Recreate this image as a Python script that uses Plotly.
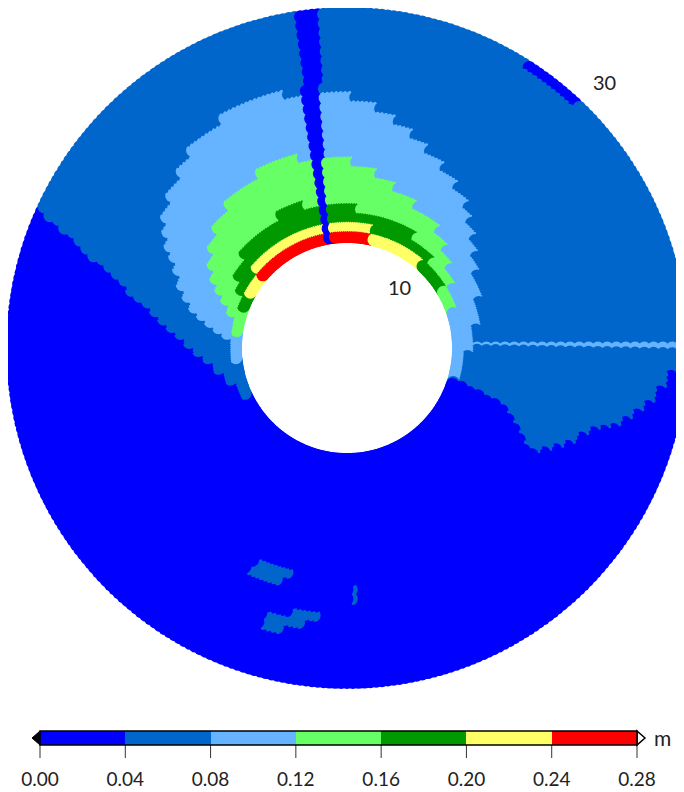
import plotly.graph_objects as go

# ---------------- colour bands (m) ----------------
BAND_EDGES = [0.00, 0.04, 0.08, 0.12, 0.16, 0.20, 0.24, 0.28]
BAND_COLORS = ["#0000ff", "#0066cc", "#66b3ff", "#66ff66", "#009900", "#ffff66", "#ff0000"]
TICK_TEXT = ["0.00", "0.04", "0.08", "0.12", "0.16", "0.20", "0.24", "0.28"]
UNIT = "m"
RADIUS_LABELS = ["10", "30"]

# ---------------- polar mesh ----------------
RING_R = [10.0, 10.833, 11.667, 12.5, 13.333, 14.167, 15.0, 15.833, 16.667, 17.5,
          18.333, 19.167, 20.0, 20.833, 21.667, 22.5, 23.333, 24.167, 25.0, 25.833,
          26.667, 27.5, 28.333, 29.167, 30.0]
THETA = list(range(279, -81, -1))  # degrees, drawn clockwise

# ---------------- regions: (ring index, from deg, to deg) ----------------
# band 0.04-0.08 (mid blue)
B1_RING = list(range(25)) + [13, 14, 17, 18, 19, 14, 15]
B1_FROM = [-18, -18.7, -19.2, -19.8, -20.3, -20.8, -21.5, -23, -25, -27, -29, -29, -27.5,
           -25.5, -23, -20, -18.5, -17.3, -16, -14.5, -12.5, -10.3, -7.5, -4, -1,
           247, 246, 258, 253, 253, 271, 271]
B1_TO = [204, 195.4, 189.4, 184.8, 181.1, 178, 175.4, 173.1, 171.1, 169.4, 167.8, 166.3, 165.1,
         163.9, 162.8, 161.8, 160.9, 160.1, 159.3, 158.6, 157.9, 157.3, 156.7, 156.1, 155.6,
         255, 253, 263, 260, 256, 271, 271]

# band 0.08-0.12 (light blue)
B2_RING = list(range(17)) + list(range(2, 25))
B2_FROM = [-17, -3, 8.6, 19.5, 29.5, 35.5, 40.3, 46, 49.6, 56, 62, 67.7, 72.8, 77.4, 82.9, 88.4, 104] + [0] * 23
B2_TO = [185, 173.6, 171, 169, 167, 165, 162.6, 159.3, 155.7, 152.5, 150.2, 147.4, 144.2, 139.5,
         133.4, 128, 118] + [0] * 23

# band 0.12-0.16 (light green)
B3_RING = list(range(10))
B3_FROM = [19, 30, 38, 44.4, 52, 63.5, 72.5, 80, 88, 104]
B3_TO = [171, 162.3, 158.8, 155.5, 152.1, 148.1, 143.3, 137, 129, 116]

# band 0.16-0.20 (dark green)
B4_RING = [0, 1, 2, 3, 4]
B4_FROM = [31, 45, 58, 85, 106]
B4_TO = [158, 151, 146.2, 137.8, 116]

# band 0.20-0.24 (yellow)
B5_RING = [0, 0, 1]
B5_FROM = [48, 140, 77]
B5_TO = [76, 150, 138]

# band 0.24-0.28 (red)
B6_RING = [0]
B6_FROM = [77]
B6_TO = [139]

# band 0.00-0.04 drawn over everything (radial stripe and outer arc)
B0_RING = list(range(25)) + [24]
B0_FROM = [97] * 9 + [96] * 8 + [95] * 8 + [47]
B0_TO = [99] * 9 + [99] * 8 + [98] * 8 + [57]

# ---------------- build the field ----------------
band_value = [(BAND_EDGES[i] + BAND_EDGES[i + 1]) / 2 for i in range(len(BAND_COLORS))]
field = [[band_value[0]] * len(THETA) for _ in RING_R]
layers = [(1, B1_RING, B1_FROM, B1_TO), (2, B2_RING, B2_FROM, B2_TO),
          (3, B3_RING, B3_FROM, B3_TO), (4, B4_RING, B4_FROM, B4_TO),
          (5, B5_RING, B5_FROM, B5_TO), (6, B6_RING, B6_FROM, B6_TO),
          (0, B0_RING, B0_FROM, B0_TO)]
for lvl, rings, lo, hi in layers:
    for k, a, b in zip(rings, lo, hi):
        for j, t in enumerate(THETA):
            if a - 0.01 <= t <= b + 0.01:
                field[k][j] = band_value[lvl]

rr, tt, vv = [], [], []
for j, t in enumerate(THETA):
    for k in range(len(RING_R) - 1, -1, -1):   # outer ring first, inner ring on top
        rr.append(RING_R[k])
        tt.append(t)
        vv.append(field[k][j])

n = len(BAND_COLORS)
colorscale = []
for i, c in enumerate(BAND_COLORS):
    colorscale.append([i / n, c])
    colorscale.append([(i + 1) / n, c])

W, H = 684, 792
OFF = 8          # page body margin of the browser: figure pixel = screen pixel - OFF
FONT = "Lato"
TXT = "#222222"


def px(x):
    return (x - OFF) / W


def py(y):
    return 1 - (y - OFF) / H


# colour-bar geometry (screen pixels)
BAR_X0, BAR_X1, BAR_Y0, BAR_Y1 = 40, 637, 731, 745

fig = go.Figure()
fig.add_trace(go.Scatterpolar(
    r=rr, theta=tt, mode="markers", cliponaxis=False, hoverinfo="skip",
    marker=dict(
        size=13, color=vv, colorscale=colorscale, cmin=BAND_EDGES[0], cmax=BAND_EDGES[-1],
        line=dict(width=0),
        colorbar=dict(
            orientation="h", x=(px(BAR_X0) + px(BAR_X1)) / 2, xanchor="center",
            y=py(BAR_Y0), yanchor="top",
            lenmode="pixels", len=BAR_X1 - BAR_X0, thicknessmode="pixels", thickness=BAR_Y1 - BAR_Y0,
            outlinewidth=1.5, outlinecolor="black", xpad=0, ypad=0,
            tickmode="array", tickvals=BAND_EDGES, ticktext=TICK_TEXT,
            ticks="outside", ticklen=18, tickwidth=1, tickcolor="rgba(0,0,0,0)",
            tickfont=dict(family=FONT, size=19, color=TXT),
        ),
    ),
))

ymid = (BAR_Y0 + BAR_Y1) / 2
shapes = [
    dict(type="path", xref="paper", yref="paper",
         path=f"M {px(BAR_X0)} {py(BAR_Y0)} L {px(BAR_X0-8)} {py(ymid)} L {px(BAR_X0)} {py(BAR_Y1)} Z",
         fillcolor="black", line=dict(color="black", width=1)),
    dict(type="path", xref="paper", yref="paper",
         path=f"M {px(BAR_X1)} {py(BAR_Y0)} L {px(BAR_X1+8)} {py(ymid)} L {px(BAR_X1)} {py(BAR_Y1)} Z",
         fillcolor="white", line=dict(color="black", width=1.5)),
]
for v in BAND_EDGES:
    xs = BAR_X0 + (v - BAND_EDGES[0]) / (BAND_EDGES[-1] - BAND_EDGES[0]) * (BAR_X1 - BAR_X0)
    shapes.append(dict(type="line", xref="paper", yref="paper", x0=px(xs), x1=px(xs),
                       y0=py(BAR_Y0), y1=py(BAR_Y1 + 13),
                       line=dict(color="#333333", width=1)))

cx, cy, R = 347, 348, 334.5   # screen pixels
ann_font = dict(family=FONT, size=20, color=TXT)
fig.update_layout(
    width=W, height=H, margin=dict(l=0, r=0, t=0, b=0, autoexpand=False),
    paper_bgcolor="white", plot_bgcolor="white", showlegend=False,
    polar=dict(
        domain=dict(x=[px(cx - R), px(cx + R)], y=[py(cy + R), py(cy - R)]),
        bgcolor="white",
        radialaxis=dict(range=[0, 30], visible=False),
        angularaxis=dict(visible=False, direction="counterclockwise", rotation=0),
    ),
    annotations=[
        dict(text=RADIUS_LABELS[0], x=px(399), y=py(287), xref="paper", yref="paper",
             xanchor="center", yanchor="middle", showarrow=False, font=ann_font),
        dict(text=RADIUS_LABELS[1], x=px(604), y=py(82), xref="paper", yref="paper",
             xanchor="center", yanchor="middle", showarrow=False, font=ann_font),
        dict(text=UNIT, x=px(662), y=py(737), xref="paper", yref="paper",
             xanchor="center", yanchor="middle", showarrow=False,
             font=dict(family=FONT, size=21, color=TXT)),
    ],
    shapes=shapes,
)

fig.write_html("out.html")
